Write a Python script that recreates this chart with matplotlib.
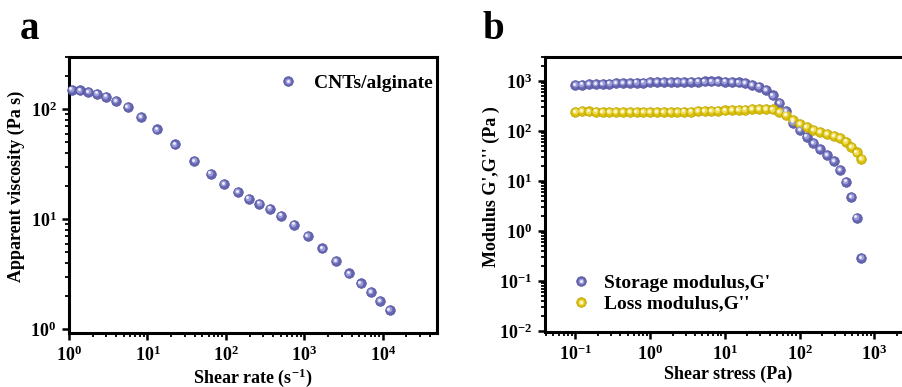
import numpy as np
import matplotlib
matplotlib.use("Agg")
import matplotlib.pyplot as plt
from matplotlib.ticker import LogLocator, NullFormatter
from matplotlib.transforms import offset_copy
from matplotlib.legend_handler import HandlerTuple

plt.rcParams['font.family'] = ['Liberation Serif', 'DejaVu Serif']
plt.rcParams['font.weight'] = 'bold'
plt.rcParams['axes.labelweight'] = 'bold'
plt.rcParams['mathtext.fontset'] = 'custom'
plt.rcParams['mathtext.rm'] = 'Liberation Serif:bold'
plt.rcParams['mathtext.it'] = 'Liberation Serif:bold:italic'
plt.rcParams['mathtext.bf'] = 'Liberation Serif:bold'

# (a) steady shear viscosity
shear_rate = [1.08, 1.38, 1.77, 2.27, 2.98, 4.0, 5.6, 8.3, 13.3, 22.4, 39.6, 64,
              95, 142, 195, 267, 363, 502, 738, 1100, 1700, 2520, 3700, 5220,
              7010, 9230, 12200]
viscosity = [151, 149, 144, 139, 131, 119, 105, 85, 65.8, 48, 33.7, 26, 20.8,
             17.6, 15.4, 13.9, 12.5, 10.8, 8.95, 7.05, 5.42, 4.18, 3.21, 2.60,
             2.16, 1.80, 1.49]

# (b) stress sweep
shear_stress = [0.100, 0.123, 0.152, 0.188, 0.231, 0.285, 0.352, 0.434, 0.535,
                0.659, 0.813, 1.00, 1.24, 1.52, 1.88, 2.32, 2.86, 3.52, 4.35,
                5.36, 6.61, 8.15, 10.1, 12.4, 15.3, 18.8, 23.2, 28.6, 35.3, 43.6,
                53.7, 66.2, 81.7, 101, 124, 153, 189, 233, 287, 345, 415, 495,
                578, 674]
storage = [820, 840, 855, 865, 875, 885, 895, 905, 910, 920, 925, 935, 940, 945,
           950, 955, 960, 965, 970, 975, 975, 975, 965, 950, 930, 900, 832, 770,
           660, 510, 365, 250, 147, 103, 77, 57, 43, 33, 25, 16.6, 9.7, 4.8,
           1.85, 0.29]
loss = [240, 250, 245, 243, 240, 238, 237, 236, 235, 235, 235, 235, 236, 237,
        238, 240, 242, 244, 246, 248, 250, 253, 256, 259, 262, 266, 270, 272,
        273, 268, 240, 209, 166, 138, 118, 105, 96, 87, 79, 71, 61, 48, 37, 27.5]

blue = ('#6565b2', '#50509a', '#9c9cd8', '#f0f0ff')
yellow = ('#d8bf0a', '#bba200', '#eedc5a', '#fffbe0')

FS = 13

fig = plt.figure(figsize=(9.02, 3.87), dpi=100)
ax1 = fig.add_axes([0.0765, 0.1395, 0.408, 0.7132])
ax2 = fig.add_axes([0.604, 0.142, 0.406, 0.7107])


def ball(ax, x, y, cols, ms=6.9):
    # shaded sphere: base disc, soft lighter core, small white glint
    base, = ax.plot(x, y, 'o', ms=ms, mfc=cols[0], mec=cols[1], mew=0.5,
                    ls='none', clip_on=False, zorder=3)
    shift = offset_copy(ax.transData, fig=fig, x=-0.6, y=0.6, units='points')
    core, = ax.plot(x, y, 'o', ms=ms * 0.6, mfc=cols[2], mec='none', ls='none',
                    transform=shift, clip_on=False, zorder=4)
    glint = offset_copy(ax.transData, fig=fig, x=-0.9, y=0.9, units='points')
    hi, = ax.plot(x, y, 'o', ms=ms * 0.3, mfc=cols[3], mec='none', ls='none',
                  transform=glint, clip_on=False, zorder=5)
    return base, core, hi


def style(ax):
    ax.set_xscale('log')
    ax.set_yscale('log')
    for s in ax.spines.values():
        s.set_linewidth(2.2)
    ax.tick_params(which='major', direction='out', length=5, width=1.8,
                   labelsize=FS, pad=4, top=False, right=False)
    ax.tick_params(which='minor', direction='out', length=3, width=1.3,
                   top=False, right=False)
    for axis in (ax.xaxis, ax.yaxis):
        axis.set_major_locator(LogLocator(base=10, numticks=20))
        axis.set_minor_locator(LogLocator(base=10, subs=np.arange(2, 10), numticks=100))
        axis.set_minor_formatter(NullFormatter())


# panel a
style(ax1)
h1 = ball(ax1, shear_rate, viscosity, blue)
ax1.set_xlim(1, 4.9e4)
ax1.set_ylim(0.92, 300)
ax1.set_xlabel('Shear rate (s$^{-1}$)', fontsize=FS, labelpad=1)
ax1.set_ylabel('Apparent viscosity (Pa s)', fontsize=FS, labelpad=3)
ax1.yaxis.set_label_coords(-0.12, 0.53)
ax1.legend([h1], ['CNTs/alginate'], handler_map={tuple: HandlerTuple(ndivide=1)},
           loc='center left', bbox_to_anchor=(0.572, 0.906), frameon=False,
           fontsize=14, handlelength=0.9, handletextpad=0.85, borderpad=0,
           borderaxespad=0)

# panel b
style(ax2)
ax2.spines['right'].set_visible(False)
h2 = ball(ax2, shear_stress, storage, blue)
h3 = ball(ax2, shear_stress, loss, yellow)
ax2.set_xlim(0.039, 3100)
ax2.set_ylim(0.0095, 3000)
ax2.set_xlabel('Shear stress (Pa)', fontsize=FS, labelpad=1)
ax2.set_ylabel("Modulus G',G'' (Pa )", fontsize=FS, labelpad=3)
ax2.yaxis.set_label_coords(-0.123, 0.53)
ax2.legend([h2, h3], ["Storage modulus,G'", "Loss modulus,G''"],
           handler_map={tuple: HandlerTuple(ndivide=1)},
           loc='center left', bbox_to_anchor=(0.075, 0.14), frameon=False,
           fontsize=14, handlelength=0.85, handletextpad=0.8, borderpad=0,
           borderaxespad=0, labelspacing=0.15)

fig.text(0.022, 0.925, 'a', fontsize=28, fontweight='bold', va='center')
fig.text(0.535, 0.925, 'b', fontsize=28, fontweight='bold', va='center')

fig.savefig('out.png', dpi=100)
